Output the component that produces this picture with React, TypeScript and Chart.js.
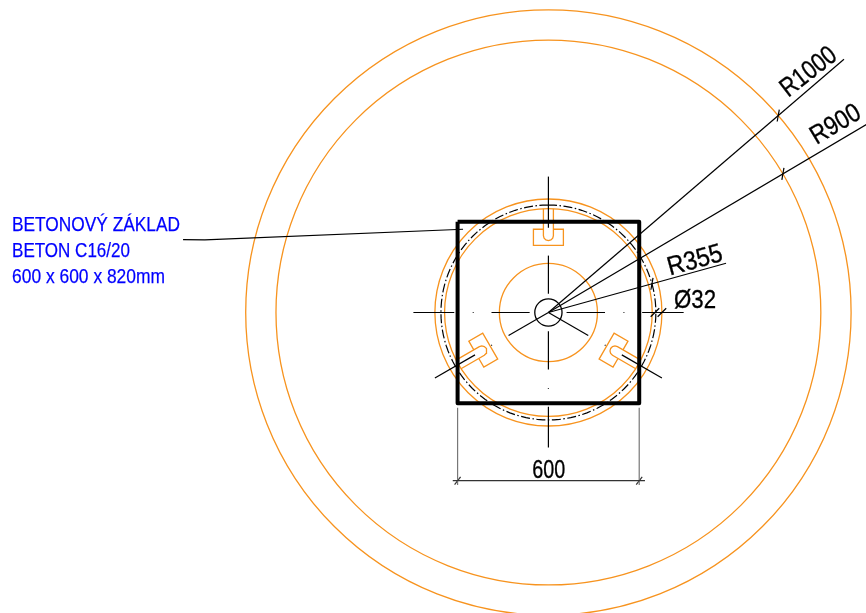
import React, { useEffect, useRef } from "react";
import { Chart, registerables } from "chart.js";

Chart.register(...registerables);

type Pt = { x: number; y: number };

// ---- drawing data, all in millimetres, origin at the foundation axis ----
const orangeCircleRadii = [1000, 900, 375, 343, 162];
const shaftCircleRadius = 45;
const ductCircleRadius = 355;
const slabSide = 600;

// keyhole recess, local axes: [distance from the axis, offset across]
const recessBlock: [number, number][] = [
  [275, 16.5], [275, 49.5], [222, 49.5], [222, -49.5], [275, -49.5], [275, -16.5],
];
const recessSlot: [number, number][] = [
  [343, 16.5], [254, 16.5], [245.75, 14.3], [239.7, 8.25], [237.5, 0],
  [239.7, -8.25], [245.75, -14.3], [254, -16.5], [343, -16.5],
];
const recessAngles = [90, 210, 330];

// centre-line pieces: [angle, from radius, to radius]
const centreLines: [number, number, number][] = [
  [0, 60, 187], [0, 248, 251], [0, 311, 446],
  [180, 62, 188], [180, 247, 250], [180, 311, 446],
  [270, 62, 188], [270, 249, 252], [270, 311, 446],
  [90, 62, 188], [90, 280, 449],
  [210, 0, 152], [210, 215, 218], [210, 280, 433],
  [330, 0, 152], [330, 215, 218], [330, 280, 433],
];

// radial dimensions: [angle, radius of the tick, end of the leader]
const radialDims: [number, number, number][] = [
  [40.6, 1000, 1286],
  [30.6, 900, 1260],
  [15.5, 355, 609],
];

const diameterLine: Pt[] = [{ x: 310, y: 0 }, { x: 446, y: 0 }];
const diameterTicks = [352, 375];
const noteLeader: Pt[] = [
  { x: -1207, y: 241 }, { x: -1135, y: 240 }, { x: -282, y: 275 },
];
const widthDimY = -555.7;
const widthDimLine: Pt[] = [{ x: -316, y: widthDimY }, { x: 319, y: widthDimY }];
const widthExtLeft: Pt[] = [{ x: -300, y: -315 }, { x: -300, y: -570 }];
const widthExtRight: Pt[] = [{ x: 300, y: -315 }, { x: 300, y: -570 }];

const noteLines = ["BETONOVÝ ZÁKLAD", "BETON C16/20", "600 x 600 x 820mm"];
const noteX = [-1772, -1772, -1772];
const noteY = [269, 182, 96.5];
const noteWidths = [168, 118, 153];

const dimTexts = ["R1000", "R900", "R355", "Ø32", "600"];
const dimTextX = [792, 886, 402, 414.9, -53];
const dimTextY = [709.6, 553.3, 122, 13.9, -547.7];
const dimTextAngle = [38, 31, 15.5, 0, 0];
const dimTextWidth = [64, 54, 56, 42, 33];

// ---- view window ----
const xMin = -1811.7;
const xMax = 1049.2;
const yMin = -992.7;
const yMax = 1032.4;

const ORANGE = "#F7931E";
const LINE = 1.2;
const rad = (d: number) => (d * Math.PI) / 180;
const polar = (a: number, r: number): Pt => ({ x: r * Math.cos(rad(a)), y: r * Math.sin(rad(a)) });
const place = (a: number, p: [number, number]): Pt => ({
  x: p[0] * Math.cos(rad(a)) - p[1] * Math.sin(rad(a)),
  y: p[0] * Math.sin(rad(a)) + p[1] * Math.cos(rad(a)),
});
const slash = (c: Pt, angle: number, half: number): Pt[] => [
  { x: c.x - half * Math.cos(rad(angle)), y: c.y - half * Math.sin(rad(angle)) },
  { x: c.x + half * Math.cos(rad(angle)), y: c.y + half * Math.sin(rad(angle)) },
];

const line = (data: Pt[], color = "#000000", width = LINE, extra: object = {}) => ({
  data,
  showLine: true,
  pointRadius: 0,
  borderColor: color,
  borderWidth: width,
  tension: 0,
  ...extra,
});

const circle = (r: number, color: string) => ({
  data: [{ x: 0, y: 0 }],
  showLine: false,
  pointRadius: (ctx: any) => {
    const s = ctx.chart.scales.x;
    return s.getPixelForValue(r) - s.getPixelForValue(0);
  },
  pointHoverRadius: 0,
  pointBackgroundColor: "transparent",
  pointBorderColor: color,
  pointBorderWidth: 1.3,
});

const s0 = slabSide / 2;
const slab: Pt[] = [
  { x: -s0, y: s0 }, { x: s0, y: s0 }, { x: s0, y: -s0 }, { x: -s0, y: -s0 }, { x: -s0, y: s0 },
];

const ductPoints: Pt[] = [];
for (let a = 0; a <= 360; a += 3) ductPoints.push(polar(a + 90, ductCircleRadius));

const datasets: any[] = [
  line(slab, "#000000", 4, { borderJoinStyle: "round" }),
  ...radialDims.flatMap(([a, r, end]) => [
    line([{ x: 0, y: 0 }, polar(a, end)]),
    line(slash(polar(a, r), 80, 20)),
  ]),
  line(diameterLine),
  ...diameterTicks.map((x) => line(slash({ x, y: 0 }, 45, 20))),
  line(noteLeader),
  line(widthDimLine, "#333333"),
  line(widthExtLeft, "#777777"),
  line(widthExtRight, "#777777"),
  line(slash({ x: -s0, y: widthDimY }, 52, 16), "#333333"),
  line(slash({ x: s0, y: widthDimY }, 52, 16), "#333333"),
  ...centreLines.map(([a, r0, r1]) => line([polar(a, r0), polar(a, r1)])),
  circle(shaftCircleRadius, "#000000"),
  ...recessAngles.flatMap((a) => [
    line(recessBlock.map((p) => place(a, p)), ORANGE, 1.3),
    line(recessSlot.map((p) => place(a, p)), ORANGE, 1.3),
  ]),
  line(ductPoints, "#000000", LINE, { borderDash: [9, 2.5, 1.5, 2.5] }),
  ...orangeCircleRadii.map((r) => circle(r, ORANGE)),
];

const fitted = (
  ctx: CanvasRenderingContext2D,
  text: string,
  px: number,
  py: number,
  angle: number,
  width: number,
  font: string,
  color: string,
  weight: number,
) => {
  ctx.save();
  ctx.font = font;
  ctx.fillStyle = color;
  ctx.strokeStyle = color;
  ctx.lineWidth = weight;
  ctx.textAlign = "left";
  ctx.textBaseline = "alphabetic";
  const sx = width / ctx.measureText(text).width;
  ctx.translate(px, py);
  ctx.rotate(-rad(angle));
  ctx.scale(sx, 1);
  ctx.fillText(text, 0, 0);
  ctx.strokeText(text, 0, 0);
  ctx.restore();
};

const labelsPlugin = {
  id: "cadLabels",
  afterDatasetsDraw(chart: any) {
    const { ctx, scales } = chart;
    const { x, y } = scales;
    noteLines.forEach((t, i) =>
      fitted(ctx, t, x.getPixelForValue(noteX[i]), y.getPixelForValue(noteY[i]), 0, noteWidths[i], '21px "Liberation Sans"', "#0000FF", 0.25),
    );
    dimTexts.forEach((t, i) =>
      fitted(ctx, t, x.getPixelForValue(dimTextX[i]), y.getPixelForValue(dimTextY[i]), dimTextAngle[i], dimTextWidth[i], '26.5px "Liberation Sans"', "#000000", 0.35),
    );
  },
};

export default function App() {
  const ref = useRef<HTMLCanvasElement>(null);
  useEffect(() => {
    document.body.style.margin = "0";
    const chart = new Chart(ref.current!, {
      type: "scatter",
      data: { datasets },
      options: {
        animation: false,
        responsive: false,
        devicePixelRatio: 1,
        layout: { padding: 0 },
        events: [],
        plugins: { legend: { display: false }, tooltip: { enabled: false }, title: { display: false } },
        scales: {
          x: { type: "linear", display: false, min: xMin, max: xMax },
          y: { type: "linear", display: false, min: yMin, max: yMax },
        },
      },
      plugins: [labelsPlugin],
    } as any);
    return () => chart.destroy();
  }, []);
  return <canvas ref={ref} width={866} height={613} style={{ display: "block", background: "#fff" }} />;
}
